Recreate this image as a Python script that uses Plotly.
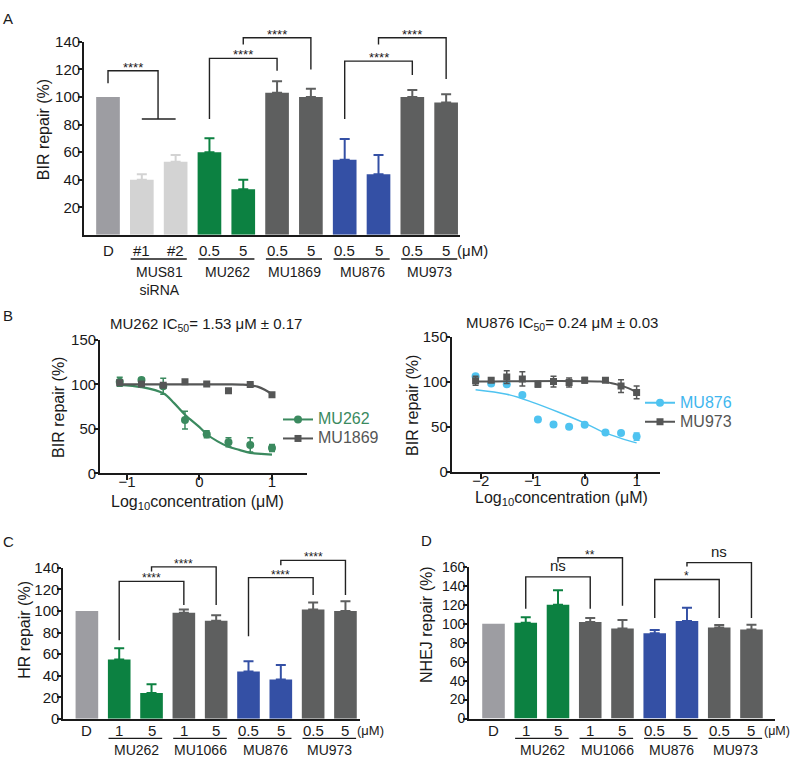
import plotly.graph_objects as go

W, H = 791, 762
def X(px): return px / W
def Y(py): return 1 - py / H

FONT = "Liberation Sans, Arial, sans-serif"
TXT = "#1a1a1a"
C_D, C_SI, C_GR, C_DK, C_BL = "#9d9da2", "#d3d3d3", "#0c8141", "#5e5f5f", "#3450a5"

# ---------------- Panel A data ----------------
a_labels = ["D", "#1", "#2", "0.5", "5", "0.5", "5", "0.5", "5", "0.5", "5"]
a_values = [100, 40, 53, 60, 33, 103, 100, 54.5, 44, 100, 96]
a_sem = [0, 4, 5, 10, 7, 8.5, 6, 15, 14, 5, 6]
a_colors = [C_D, C_SI, C_SI, C_GR, C_GR, C_DK, C_DK, C_BL, C_BL, C_DK, C_DK]
a_groups = [("MUS81<br>siRNA", 1, 2), ("MU262", 3, 4), ("MU1869", 5, 6), ("MU876", 7, 8), ("MU973", 9, 10)]
a_brackets = [([0, 0, 1.48, 1.48], [110, 119, 119, 84]), ([1, 2], [84, 84]),
              ([3, 3, 5, 5], [84, 128, 128, 119]), ([4, 4, 6, 6], [138, 143, 143, 120]),
              ([7, 7, 9, 9], [84, 126, 126, 116]), ([8, 8, 10, 10], [138, 143, 143, 113])]
a_marks = [(0.74, 119, "****"), (4, 128, "****"), (5, 143, "****"), (8, 126, "****"), (9, 143, "****")]

# ---------------- Panel B data ----------------
b1_x = [-1.1, -0.8, -0.5, -0.2, 0.1, 0.4, 0.7, 1.0]
mu262_y = [103, 105, 98, 60, 44, 35, 32, 28.5]
mu262_sem = [5, 2, 9, 10, 4, 5, 8, 4]
mu1869_y = [102, 100.5, 99, 103, 100.5, 93, 100, 88.5]
mu1869_sem = [2, 1, 1, 1, 1, 1, 1, 2]
mu262_fit_x = [-1.1, -0.8, -0.5, -0.35, -0.2, 0.0, 0.1, 0.25, 0.4, 0.55, 0.7, 0.85, 1.0]
mu262_fit_y = [99.6, 97, 90, 79, 66, 52, 44, 36, 30, 26.4, 23, 22, 21]
mu1869_fit_x = [-1.1, 0.4, 0.6, 0.7, 0.8, 0.9, 1.0]
mu1869_fit_y = [100, 100, 99.7, 99, 97.5, 94, 89]

b2_x = [-2.1, -1.8, -1.5, -1.2, -0.9, -0.6, -0.3, 0.0, 0.4, 0.7, 1.0]
mu876_y = [106, 98, 97, 85, 58, 52.5, 50, 52, 43.5, 43, 39]
mu876_sem = [1, 1, 1, 1, 1, 1, 2, 1, 1, 1, 4]
mu973_y = [101, 101.5, 105, 103, 97, 100, 99, 101.5, 101.5, 95, 88]
mu973_sem = [5, 2, 7, 8, 3, 6, 5, 3, 2, 7, 7]
mu876_fit_x = [-2.1, -1.5, -1.0, -0.5, 0.0, 0.4, 0.7, 1.0]
mu876_fit_y = [91, 86, 77, 66, 54, 43, 37, 32]
mu973_fit_x = [-2.1, 0.3, 0.5, 0.7, 0.85, 1.0]
mu973_fit_y = [100, 100, 98.5, 95.5, 92.5, 88]

# ---------------- Panel C data ----------------
c_labels = ["D", "1", "5", "1", "5", "0.5", "5", "0.5", "5"]
c_values = [100, 55, 24, 98.5, 91, 44, 36.5, 101.5, 100]
c_sem = [0, 10.5, 8, 3, 5, 9.5, 13.5, 6.5, 9]
cd_colors = [C_D, C_GR, C_GR, C_DK, C_DK, C_BL, C_BL, C_DK, C_DK]
cd_groups = [("MU262", 1, 2), ("MU1066", 3, 4), ("MU876", 5, 6), ("MU973", 7, 8)]
c_brackets = [([1, 1, 3, 3], [73, 127.5, 127.5, 105.5]), ([2, 2, 4, 4], [136.6, 141, 141, 105.5]),
              ([5, 5, 7, 7], [76.7, 131, 131, 115]), ([6, 6, 8, 8], [142.5, 147, 147, 115])]
c_marks = [(2, 127.5, "****"), (3, 141, "****"), (6, 131, "****"), (7, 147, "****")]

# ---------------- Panel D data ----------------
d_labels = ["D", "1", "5", "1", "5", "0.5", "5", "0.5", "5"]
d_values = [100, 101, 120, 102, 95, 90, 103, 96, 94]
d_sem = [0, 6, 15.5, 4, 9, 3.5, 14, 2.6, 5]
d_brackets = [([1, 1, 3, 3], [116, 149.5, 149.5, 116]), ([2, 2, 4, 4], [164.6, 169.8, 169.8, 119]),
              ([5, 5, 7, 7], [106, 146.8, 146.8, 106]), ([6, 6, 8, 8], [160.5, 164.6, 164.6, 106])]
d_marks = [(2, 149.5, "ns"), (3, 169.8, "**"), (6, 146.8, "*"), (7, 164.6, "ns")]

# ---------------- geometry (pixels) ----------------
GEO = {
    "A": dict(x=(84, 460), xr=[-0.71, 10.41], y=(231, 33.6), yr=[0, 140]),
    "B1": dict(x=(100, 307), xr=[-1.372, 1.483], y=(475, 338.5), yr=[0, 150]),
    "B2": dict(x=(451.7, 660), xr=[-2.56, 1.45], y=(473.3, 335), yr=[0, 150]),
    "C": dict(x=(63.3, 360), xr=[-0.73, 8.45], y=(726, 571.7), yr=[0, 140]),
    "D": dict(x=(469, 775), xr=[-0.76, 8.73], y=(725.7, 570.7), yr=[0, 160]),
}

fig = go.Figure()
annotations = []
shapes = []


def ann(text, x, y, size=15, xref="paper", yref="paper", xanchor="center", yanchor="middle",
        angle=0, color=TXT, align="center", yshift=0):
    annotations.append(dict(text=text, x=x, y=y, xref=xref, yref=yref, xanchor=xanchor,
                            yanchor=yanchor, textangle=angle, showarrow=False, align=align,
                            font=dict(family=FONT, size=size, color=color), yshift=yshift))


def ypaper(g, v):
    p0, p1 = g["y"]
    r0, r1 = g["yr"]
    return Y(p0 + (p1 - p0) * (v - r0) / (r1 - r0))


def bar_panel(key, xa, ya, values, sem, colors, labels, groups, brackets, marks,
              label_py, line_py, group_py, fsize, mark_size):
    g = GEO[key]
    for i, (v, s, c) in enumerate(zip(values, sem, colors)):
        fig.add_trace(go.Bar(x=[i], y=[v], width=0.7, marker=dict(color=c, line=dict(width=0)),
                             xaxis=xa, yaxis=ya, showlegend=False,
                             error_y=dict(type="data", symmetric=False, array=[s], arrayminus=[0],
                                          color=c, thickness=2, width=5, visible=s > 0)))
    for bx, by in brackets:
        path = " ".join(("M" if k == 0 else "L") + f"{xx},{ypaper(g, yy)}"
                        for k, (xx, yy) in enumerate(zip(bx, by)))
        shapes.append(dict(type="path", path=path, xref=xa, yref="paper",
                           line=dict(color="#222", width=1.4)))
    for mx, my, t in marks:
        if "*" in t:
            ann(t, mx, ypaper(g, my), size=mark_size, xref=xa, yanchor="bottom", yshift=-6)
        else:
            ann(t, mx, ypaper(g, my), size=mark_size + 3, xref=xa, yanchor="bottom", yshift=1)
    for i, t in enumerate(labels):
        ann(t, i, Y(label_py), size=fsize, xref=xa)
    for name, i0, i1 in groups:
        shapes.append(dict(type="line", xref=xa, yref="paper", x0=i0 - 0.33, x1=i1 + 0.33,
                           y0=Y(line_py), y1=Y(line_py), line=dict(color=TXT, width=1.3)))
        ann(name, (i0 + i1) / 2 + 0.02, Y(group_py), size=fsize - 1, xref=xa,
            yanchor="top")


bar_panel("A", "x", "y", a_values, a_sem, a_colors, a_labels, a_groups, a_brackets, a_marks,
          246.7, 255.7, 259, 15, 13)
bar_panel("C", "x4", "y4", c_values, c_sem, cd_colors, c_labels, cd_groups, c_brackets, c_marks,
          738.3, 746, 748, 15, 12)
bar_panel("D", "x5", "y5", d_values, d_sem, cd_colors, d_labels, cd_groups, d_brackets, d_marks,
          738.3, 746, 748, 15, 12)


# ---- Panel B traces ----
def dose(xa, ya, xs, ys, sem, fx, fy, name, color, symbol, msize, lw, legend, tcolor):
    fig.add_trace(go.Scatter(x=fx, y=fy, mode="lines", line=dict(color=color, width=lw, shape="spline"),
                             xaxis=xa, yaxis=ya, showlegend=False, hoverinfo="skip"))
    fig.add_trace(go.Scatter(x=xs, y=ys, mode="markers",
                             marker=dict(color=color, size=msize, symbol=symbol),
                             error_y=dict(type="data", array=sem, color=color, thickness=1.5, width=3),
                             xaxis=xa, yaxis=ya, showlegend=False))
    fig.add_trace(go.Scatter(x=[None], y=[None], mode="lines+markers",
                             name=f'<span style="color:{tcolor};font-size:16px">{name}</span>',
                             line=dict(color=color, width=2), marker=dict(color=color, size=msize, symbol=symbol),
                             xaxis=xa, yaxis=ya, legend=legend))


dose("x2", "y2", b1_x, mu262_y, mu262_sem, mu262_fit_x, mu262_fit_y, "MU262", "#3b8a5f", "circle", 8, 2.2, "legend", "#3b8a5f")
dose("x2", "y2", b1_x, mu1869_y, mu1869_sem, mu1869_fit_x, mu1869_fit_y, "MU1869", "#555656", "square", 7, 2.2, "legend", "#555656")
dose("x3", "y3", b2_x, mu876_y, mu876_sem, mu876_fit_x, mu876_fit_y, "MU876", "#4fc3f0", "circle", 8, 1.4, "legend2", "#3fb6ee")
dose("x3", "y3", b2_x, mu973_y, mu973_sem, mu973_fit_x, mu973_fit_y, "MU973", "#555656", "square", 7, 2.0, "legend2", "#555656")

# ---- Texts ----
for t, px, py in [("A", 8, 10), ("B", 8, 314), ("C", 8, 545), ("D", 426, 544)]:
    ann(t, X(px), Y(py), size=15)
ann("BIR repair (%)", X(43), Y(124), size=16, angle=-90)
ann("BIR repair (%)", X(59), Y(407), size=16, angle=-90)
ann("BIR repair (%)", X(413), Y(406), size=16, angle=-90)
ann("HR repair (%)", X(25), Y(635), size=16, angle=-90)
ann("NHEJ repair (%)", X(427), Y(630), size=16, angle=-90)
ann("MU262 IC<sub>50</sub>= 1.53 μM ± 0.17", X(206), Y(323), size=15)
ann("MU876 IC<sub>50</sub>= 0.24 μM ± 0.03", X(562), Y(322), size=15)
ann("Log<sub>10</sub>concentration (μM)", X(197), Y(505), size=16)
ann("Log<sub>10</sub>concentration (μM)", X(561), Y(501), size=16)
ann("(μM)", X(455), Y(246.7), size=15, xanchor="left")
ann("(μM)", X(355), Y(738.3), size=13, xanchor="left")
ann("(μM)", X(762), Y(738.3), size=12.5, xanchor="left")


def xax(key, anchor, ticks=False, tv=None):
    g = GEO[key]
    a = dict(domain=[X(g["x"][0]), X(g["x"][1])], range=g["xr"], anchor=anchor, showline=True,
             linewidth=1.8, linecolor=TXT, showgrid=False, zeroline=False, fixedrange=True)
    if ticks:
        a.update(ticks="outside", ticklen=5, tickwidth=1.5, tickcolor=TXT, tickvals=tv,
                 ticklabelstandoff=-11, tickfont=dict(family=FONT, size=15, color=TXT))
    else:
        a.update(showticklabels=False, ticks="")
    return a


def yax(key, anchor, tv, size):
    g = GEO[key]
    return dict(domain=[Y(g["y"][0]), Y(g["y"][1])], range=g["yr"], anchor=anchor, showline=True,
                linewidth=1.8, linecolor=TXT, showgrid=False, zeroline=False, ticks="outside",
                ticklen=4, tickwidth=1.5, tickcolor=TXT, tickvals=tv, fixedrange=True,
                ticklabelstandoff=-5, tickfont=dict(family=FONT, size=size, color=TXT))


fig.update_layout(
    width=W, height=H, margin=dict(l=0, r=0, t=0, b=0),
    paper_bgcolor="white", plot_bgcolor="white", barmode="overlay",
    font=dict(family=FONT, color=TXT),
    xaxis=xax("A", "y"),
    yaxis=yax("A", "x", [20, 40, 60, 80, 100, 120, 140], 15),
    xaxis2=xax("B1", "y2", True, [-1, 0, 1]),
    yaxis2=yax("B1", "x2", [0, 50, 100, 150], 15),
    xaxis3=xax("B2", "y3", True, [-2, -1, 0, 1]),
    yaxis3=yax("B2", "x3", [0, 50, 100, 150], 15),
    xaxis4=xax("C", "y4"),
    yaxis4=yax("C", "x4", [0, 20, 40, 60, 80, 100, 120, 140], 15),
    xaxis5=xax("D", "y5"),
    yaxis5=yax("D", "x5", [0, 20, 40, 60, 80, 100, 120, 140, 160], 14),
    legend=dict(x=X(278), y=Y(405), xanchor="left", yanchor="top", bgcolor="rgba(0,0,0,0)",
                font=dict(family=FONT, size=12), tracegroupgap=0, itemclick=False),
    legend2=dict(x=X(640), y=Y(388), xanchor="left", yanchor="top", bgcolor="rgba(0,0,0,0)",
                 font=dict(family=FONT, size=12), tracegroupgap=0, itemclick=False),
    annotations=annotations, shapes=shapes, showlegend=True,
)

fig.write_html("out.html")
